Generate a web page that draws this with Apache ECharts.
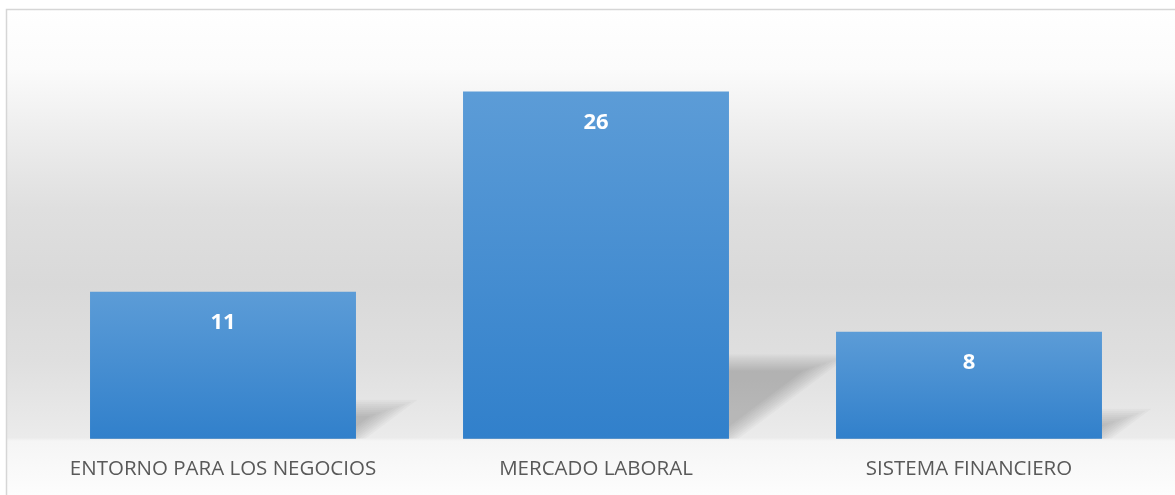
<!DOCTYPE html>
<html>
<head>
<meta charset="utf-8">
<script src="https://cdn.jsdelivr.net/npm/echarts@6/dist/echarts.min.js"></script>
<style>
  html, body { margin: 0; padding: 0; background: #ffffff; }
  #main { width: 1175px; height: 495px; }
</style>
</head>
<body>
<div id="main"></div>
<script>
var categories = ['ENTORNO PARA LOS NEGOCIOS', 'MERCADO LABORAL', 'SISTEMA FINANCIERO'];
var values = [11, 26, 8];

var gapRatio = 0.287;

var myChart = echarts.init(document.getElementById('main'));

// soft cast shadow to the right of each bar, built from stacked translucent layers
function renderShadow(params, api) {
    var idx = api.value(0);
    var val = api.value(1);
    var base = api.coord([idx, 0]);
    var top = api.coord([idx, val]);
    var half = api.size([1, 0])[0] * (1 - gapRatio) / 2;
    var h = base[1] - top[1];
    var left = base[0] - half;
    var right = base[0] + half;
    var dx = h * 0.3;
    var dy = h * 0.225;
    var bottom = base[1];
    var layers = [];
    for (var s = -6; s <= 10; s += 2) {
        var topY = bottom - dy + s;
        var shift = s * 1.6;
        layers.push({
            type: 'polygon',
            shape: {
                points: [
                    [left, bottom],
                    [right - shift, bottom],
                    [right - shift + (bottom - topY) * dx / dy, topY],
                    [left + dx, topY]
                ]
            },
            style: { fill: 'rgba(0,0,0,0.022)' }
        });
    }
    return { type: 'group', children: layers };
}

var option = {
    animation: false,
    graphic: [
        {
            type: 'rect',
            z: -10,
            shape: { x: 6.5, y: 9.5, width: 1200, height: 500 },
            style: {
                fill: new echarts.graphic.LinearGradient(0, 0, 0, 1, [
                    { offset: 0, color: '#ffffff' },
                    { offset: 0.12, color: '#fbfbfb' },
                    { offset: 0.25, color: '#ededed' },
                    { offset: 0.4, color: '#dfdfdf' },
                    { offset: 0.55, color: '#d9d9d9' },
                    { offset: 0.7, color: '#dfdfdf' },
                    { offset: 0.855, color: '#ebebeb' },
                    { offset: 0.862, color: '#f5f5f5' },
                    { offset: 1, color: '#ffffff' }
                ]),
                stroke: '#d6d6d6',
                lineWidth: 1.5
            }
        }
    ],
    grid: {
        left: 36.5,
        right: 19.5,
        top: 38,
        bottom: 56.3
    },
    xAxis: {
        type: 'category',
        data: categories,
        axisLine: { show: false },
        axisTick: { show: false },
        axisLabel: {
            color: '#595959',
            fontFamily: 'Open Sans',
            fontSize: 20.5,
            margin: 20,
            interval: 0
        }
    },
    yAxis: {
        type: 'value',
        min: 0,
        max: 30,
        show: false,
        splitLine: { show: false }
    },
    series: [
        {
            type: 'custom',
            z: 1,
            renderItem: renderShadow,
            data: values.map(function (v, i) { return [i, v]; }),
            silent: true
        },
        {
            type: 'bar',
            z: 2,
            data: values,
            barCategoryGap: (gapRatio * 100) + '%',
            itemStyle: {
                color: new echarts.graphic.LinearGradient(0, 0, 0, 1, [
                    { offset: 0, color: '#5c9cd7' },
                    { offset: 1, color: '#3180cb' }
                ])
            },
            label: {
                show: true,
                position: 'insideTop',
                distance: 20,
                color: '#ffffff',
                fontFamily: 'Open Sans',
                fontWeight: 'bold',
                fontSize: 22
            }
        }
    ]
};

myChart.setOption(option);
</script>
</body>
</html>
